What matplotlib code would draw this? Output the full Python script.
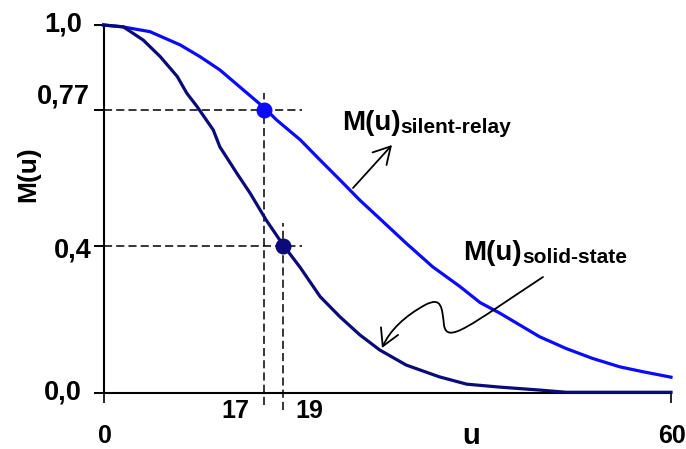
import matplotlib
matplotlib.use('Agg')
import matplotlib.pyplot as plt
from matplotlib.path import Path
from matplotlib.patches import FancyArrowPatch

# ---- data ----
u_silent = [0, 2, 4.9, 8.1, 10.2, 12.3, 14.4, 17, 18.3, 20.8, 22.9, 25.0, 27.1,
            29.2, 32.0, 34.8, 37.7, 39.8, 41.9, 44.0, 46.1, 48.9, 51.7, 54.6, 57.0, 60]
m_silent = [1.0, 0.995, 0.982, 0.946, 0.914, 0.878, 0.832, 0.775, 0.742, 0.688, 0.633,
            0.579, 0.524, 0.474, 0.407, 0.343, 0.289, 0.246, 0.217, 0.185, 0.153,
            0.121, 0.094, 0.071, 0.058, 0.043]

u_solid = [0, 2.1, 4.2, 6.0, 7.8, 8.8, 9.9, 11.6, 12.3, 14.1, 15.5, 17.2, 19.0, 20.8,
           22.9, 25.0, 27.1, 29.2, 32.0, 35.5, 38.4, 41.9, 46.1, 48.9, 60]
m_solid = [1.0, 0.995, 0.959, 0.914, 0.860, 0.815, 0.778, 0.715, 0.669, 0.597, 0.543,
           0.470, 0.402, 0.341, 0.262, 0.207, 0.158, 0.117, 0.076, 0.044, 0.024,
           0.016, 0.008, 0.002, 0.002]

mark_u = [17, 19]
mark_m = [0.77, 0.40]

yticks = [0.0, 0.4, 0.77, 1.0]
ytick_labels = ['0,0', '0,4', '0,77', '1,0']
xticks = [0, 60]
xtick_labels = ['0', '60']
x_marks_labels = ['17', '19']

BLUE = '#0a0aff'
NAVY = '#0a0a78'
W, H = 686, 449
FONT = 'Liberation Sans'

fig = plt.figure(figsize=(W / 100, H / 100), dpi=100)
x0, x1, y0, y1 = 103.5, 671.0, 25.0, 393.0
ax = fig.add_axes([x0 / W, (H - y1) / H, (x1 - x0) / W, (y1 - y0) / H])
ax.set_xlim(0, 60)
ax.set_ylim(0, 1)


def fp(x, y):
    """pixel -> figure fraction"""
    return x / W, 1 - y / H


def dp(x, y):
    """pixel -> data"""
    return (x - x0) / (x1 - x0) * 60, (y1 - y) / (y1 - y0)


for s in ['top', 'right']:
    ax.spines[s].set_visible(False)
for s in ['left', 'bottom']:
    ax.spines[s].set_linewidth(1.5)
    ax.spines[s].set_color('black')

ax.set_yticks(yticks)
ax.set_yticklabels([])
ax.set_xticks(xticks)
ax.set_xticklabels([])
ax.tick_params(axis='y', length=7, width=1.4, direction='out')
ax.tick_params(axis='x', length=7, width=1.2, direction='out')

# curves
ax.plot(u_silent, m_silent, color=BLUE, lw=2.3, clip_on=False, solid_joinstyle='round', zorder=3)
ax.plot(u_solid, m_solid, color=NAVY, lw=2.3, clip_on=False, solid_joinstyle='round', zorder=3)

# dashed guide lines
dash = (0, (5.3, 2.7))
hx_end = dp(302, 0)[0]
for um, mm, top in zip(mark_u, mark_m, [dp(0, 93)[1], dp(0, 223)[1]]):
    ax.plot([0, hx_end], [mm, mm], color='black', lw=1.1, ls=dash, clip_on=False, zorder=2)
    bottom = dp(0, 405 if um == mark_u[0] else 410)[1]
    ax.plot([um, um], [bottom, top], color='black', lw=1.1, ls=dash, clip_on=False, zorder=2)

ax.plot(mark_u[0], mark_m[0], 'o', color=BLUE, ms=10.5, clip_on=False, zorder=4)
ax.plot(mark_u[1], mark_m[1], 'o', color=NAVY, ms=10.5, clip_on=False, zorder=4)

# y tick labels
ylab_pos = {'0,0': (82, 393), '0,4': (92, 250), '0,77': (90, 96), '1,0': (82, 25)}
for lab in ytick_labels:
    px, py = ylab_pos[lab]
    fig.text(*fp(px, py), lab, ha='right', va='center', fontsize=19.5,
             fontweight='bold', family=FONT)

# x labels
fig.text(*fp(104.5, 436), xtick_labels[0], ha='center', va='center', fontsize=18,
         fontweight='bold', family=FONT)
fig.text(*fp(672, 436), xtick_labels[1], ha='center', va='center', fontsize=18,
         fontweight='bold', family=FONT)
fig.text(*fp(235, 411), x_marks_labels[0], ha='center', va='center', fontsize=18,
         fontweight='bold', family=FONT)
fig.text(*fp(309, 411), x_marks_labels[1], ha='center', va='center', fontsize=18,
         fontweight='bold', family=FONT)
fig.text(*fp(471, 436), 'u', ha='center', va='center', fontsize=21,
         fontweight='bold', family=FONT)
fig.text(*fp(28, 174), 'M(u)', ha='center', va='center', rotation=90, fontsize=19,
         fontweight='bold', family=FONT)

# curve labels
fig.text(*fp(342, 130), 'M(u)', ha='left', va='baseline', fontsize=20,
         fontweight='bold', family=FONT)
fig.text(*fp(400, 133), 'silent-relay', ha='left', va='baseline', fontsize=15,
         fontweight='bold', family=FONT)
fig.text(*fp(463, 260), 'M(u)', ha='left', va='baseline', fontsize=20,
         fontweight='bold', family=FONT)
fig.text(*fp(522, 263), 'solid-state', ha='left', va='baseline', fontsize=15,
         fontweight='bold', family=FONT)

# straight arrow to silent-relay label
ax.annotate('', xy=dp(392, 145), xytext=dp(353, 188), annotation_clip=False,
            arrowprops=dict(arrowstyle='->,head_length=0.8,head_width=0.45',
                            lw=1.3, color='black', shrinkA=0, shrinkB=0,
                            mutation_scale=15))

# squiggly arrow to solid-state curve
pts = [(543, 277), (470, 325), (447, 345), (444, 325),
       (442, 308), (442, 296), (425, 305),
       (405, 316), (390, 330), (382, 348)]
codes = [Path.MOVETO, Path.CURVE4, Path.CURVE4, Path.CURVE4,
         Path.CURVE4, Path.CURVE4, Path.CURVE4,
         Path.CURVE4, Path.CURVE4, Path.CURVE4]
path = Path([dp(*p) for p in pts], codes)
arr = FancyArrowPatch(path=path, arrowstyle='->,head_length=0.8,head_width=0.45',
                      lw=1.3, color='black', mutation_scale=15,
                      transform=ax.transData, clip_on=False, zorder=5)
ax.add_patch(arr)

fig.savefig('out.png', dpi=100)
